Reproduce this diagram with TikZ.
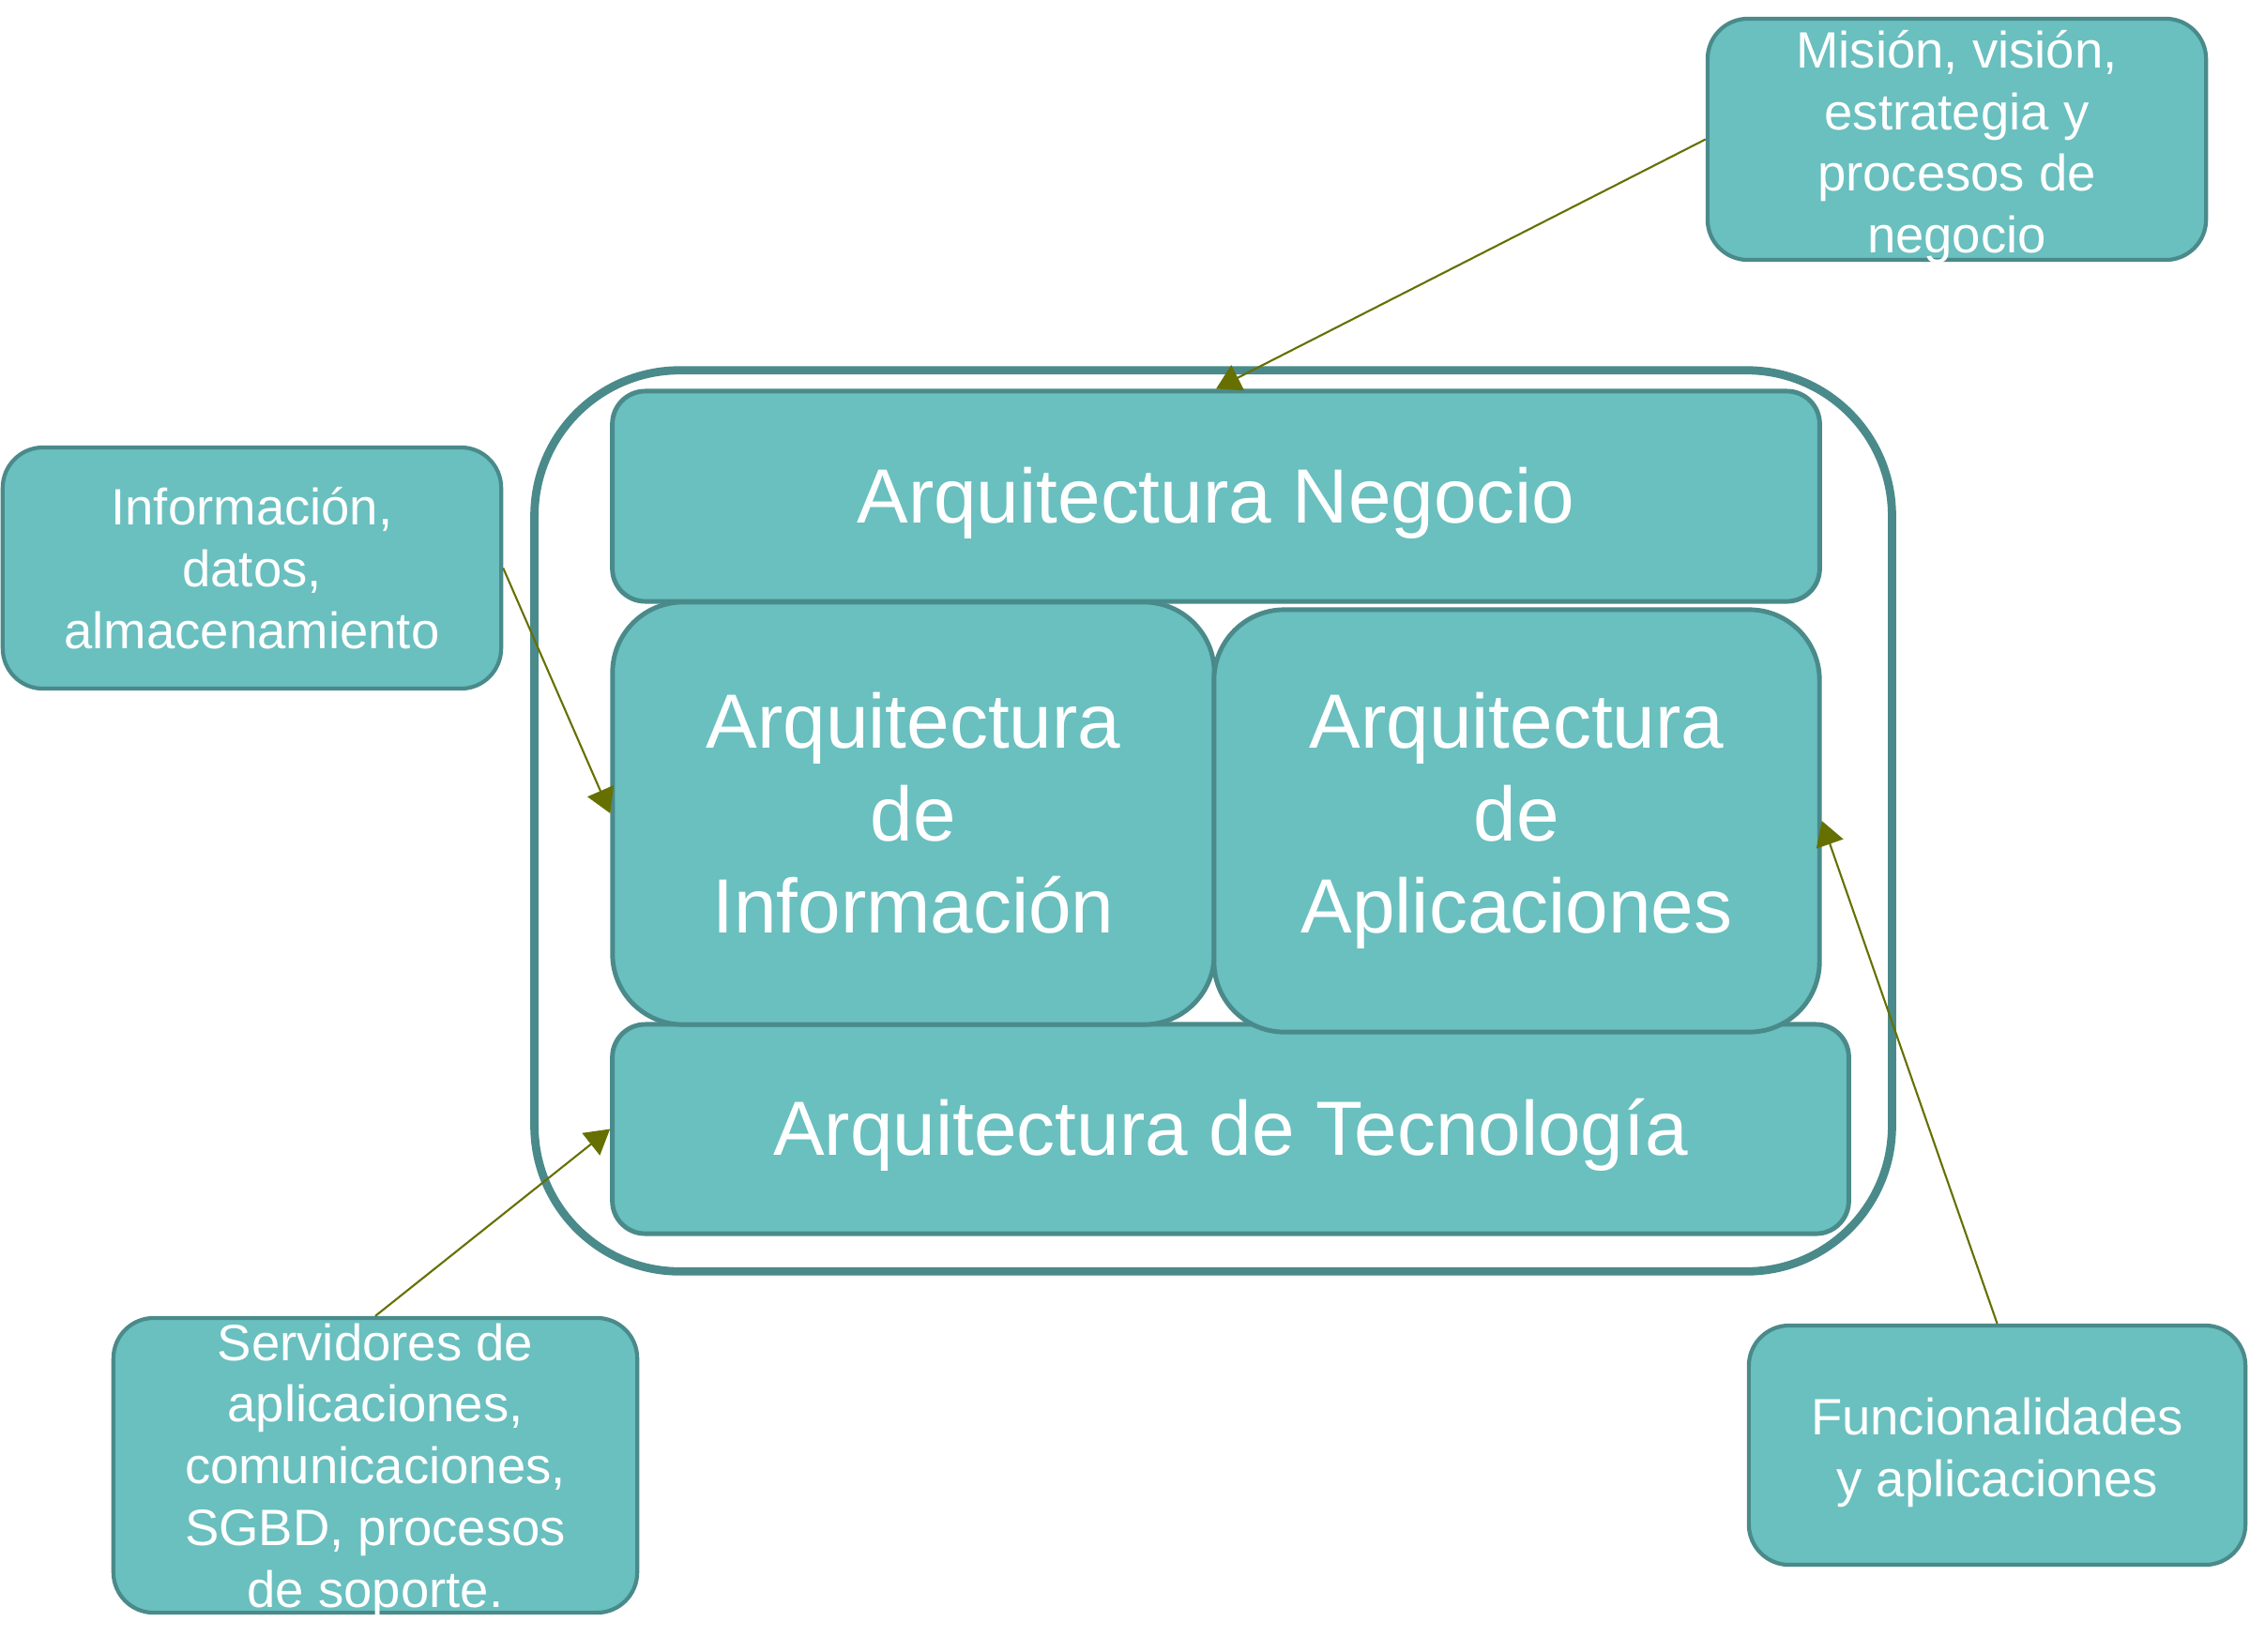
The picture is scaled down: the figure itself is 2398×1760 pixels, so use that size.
\documentclass[tikz,border=0pt]{standalone}
\usepackage{fontspec}
\setmainfont{Liberation Sans}
\usetikzlibrary{arrows.meta}
\definecolor{TealFill}{HTML}{6ABFBF}
\definecolor{TealLine}{HTML}{4A8A8A}
\definecolor{PointerOlive}{HTML}{667000}
\newcommand{\topstrut}[1]{\rule{0pt}{#1em}}

\begin{document}
\begin{tikzpicture}[x=0.01cm,y=-0.01cm,>={Triangle[length=0.26cm,width=0.3cm]},
    layer/.style={draw=TealLine,line width=1.4pt,fill=TealFill,text=white,align=center,inner sep=0pt,font=\fontsize{23.3}{28}\selectfont},
    note/.style={draw=TealLine,line width=1.2pt,fill=TealFill,text=white,align=center,inner xsep=0pt,inner ysep=-0.25cm,rounded corners=0.43cm,font=\fontsize{15.5}{18.7}\selectfont},
    pointer/.style={->,PointerOlive,line width=0.6pt}]
    \useasboundingbox (0,0) rectangle (2398,1760);
    % outer frame
    \node[draw=TealLine,line width=2.5pt,rounded corners=1.55cm,minimum width=14.46cm,minimum height=9.6cm] (frame) at (1293,875) {};
    % layers
    \node[layer,rounded corners=0.35cm,minimum width=13.17cm,minimum height=2.23cm] (tec) at (1311.5,1203.5) {\topstrut{0.9}Arquitectura de Tecnología};
    \node[layer,rounded corners=0.75cm,minimum width=6.41cm,minimum height=4.5cm] (info) at (973.5,867) {Arquitectura\\de\\Información};
    \node[layer,rounded corners=0.75cm,minimum width=6.45cm,minimum height=4.5cm] (app) at (1616.5,875) {Arquitectura\\de\\Aplicaciones};
    \node[layer,rounded corners=0.35cm,minimum width=12.86cm,minimum height=2.24cm] (neg) at (1296,529) {\topstrut{0.9}Arquitectura Negocio};
    % notes
    \node[note,minimum width=5.31cm,minimum height=2.57cm] (mision) at (2085.5,148.5) {\topstrut{1.03}Misión, visión,\\estrategia y\\procesos de\\negocio};
    \node[note,minimum width=5.31cm,minimum height=2.57cm] (datos) at (268.5,605.5) {Información,\\datos,\\almacenamiento};
    \node[note,minimum width=5.58cm,minimum height=3.14cm] (serv) at (400,1562) {\topstrut{0.93}Servidores de\\aplicaciones,\\comunicaciones,\\SGBD, procesos\\de soporte.};
    \node[note,minimum width=5.29cm,minimum height=2.55cm] (func) at (2128.5,1540.5) {\topstrut{1.0}Funcionalidades\\y aplicaciones};
    % pointers
    \draw[pointer] (mision.west) -- (neg.north);
    \draw[pointer] (datos.east) -- (info.west);
    \draw[pointer] (serv.north) -- (tec.west);
    \draw[pointer] (func.north) -- (app.east);
\end{tikzpicture}
\end{document}
